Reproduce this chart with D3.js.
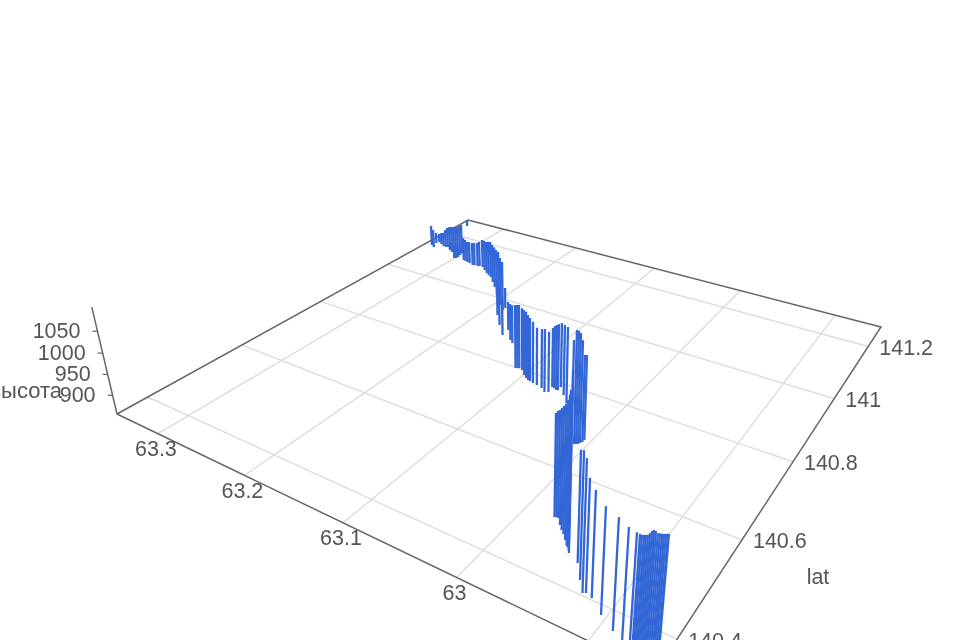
<!DOCTYPE html><html><head><meta charset="utf-8"><style>html,body{margin:0;background:#fff;overflow:hidden}svg{display:block;filter:blur(.55px)}text{font-family:"Liberation Sans",Arial,sans-serif;fill:#555;font-size:21.5px}</style></head><body>
<svg id="c" width="960" height="640"></svg>
<script src="https://cdn.jsdelivr.net/npm/d3@7"></script>
<script>
const lonTicks=[63.3,63.2,63.1,63,62.9];
const latTicks=[141.2,141,140.8,140.6,140.4];
const altTicks=[900,950,1000,1050];
const lonLabels=["63.3","63.2","63.1","63"];
const latLabels=["141.2","141","140.8","140.6","140.4"];
const altBase=854;
const trackLon=[63.3431,63.3378,63.3422,63.3411,63.3356,63.3301,63.3264,63.3244,63.3173,63.3120,63.3002,63.2984,63.2982,63.2995,63.3009,63.3418,63.2881,63.2848,63.2814,63.2780,63.2722,63.2704,63.2661,63.2642,63.2599,63.2537,63.2475,63.2429,63.2382,63.2295,63.2210,63.2087,63.2006,63.1928,63.1850,63.1834,63.1701,63.1565,63.1852,63.1573,63.1448,63.1401,63.1127,63.1113,63.1098,63.1057,63.0996,63.0954,63.0922,63.0899,63.0859,63.0813,63.0752,63.0697,63.0668,63.0682,63.0660,63.0629,63.0615,63.0619,63.0533,63.0449,62.9770,62.9759,62.9742,62.9693,62.9656,62.9624,62.9583,62.9548,62.9533,62.9510,62.9494,63.0097,63.0084,63.0071,63.0064,63.0055,63.0055,62.9395,62.9302,62.9230,62.9211,62.9158,62.9037,62.8912,62.8780,62.8725,62.8726,62.8717,62.8707,62.8698,62.8689,62.8680,62.8671,62.8662,62.8653,62.8643,62.8633,62.8623,62.8614,62.8605,62.8595,62.8591];
const trackLat=[141.1280,141.1218,141.1418,141.1496,141.1435,141.1375,141.1358,141.1383,141.1282,141.1223,141.1003,141.1026,141.1088,141.1192,141.1297,141.2553,141.1032,141.1014,141.0996,141.0979,141.0933,141.0956,141.0950,141.0972,141.0967,141.0872,141.0778,141.0723,141.0669,141.0502,141.0339,141.0073,140.9918,140.9766,140.9617,140.9398,140.9097,140.8816,140.9711,140.9027,140.8741,140.8671,140.7988,140.8006,140.8024,140.7996,140.7879,140.7817,140.7782,140.7773,140.7747,140.7730,140.7695,140.7618,140.7653,140.7816,140.7807,140.7772,140.7789,140.7894,140.7711,140.7534,140.5057,140.5070,140.5066,140.4958,140.4885,140.4830,140.4742,140.4671,140.4644,140.4605,140.4558,140.6639,140.6655,140.6671,140.6710,140.6751,140.6812,140.4460,140.4215,140.4040,140.4063,140.4029,140.3848,140.3705,140.3442,140.3424,140.3507,140.3519,140.3531,140.3542,140.3553,140.3564,140.3574,140.3585,140.3597,140.3609,140.3621,140.3633,140.3644,140.3655,140.3667,140.3672];
const trackAlt=[913,906,885,879,888,894,906,913,924,930,947,947,944,942,939,873,920,917,914,917,920,920,923,926,934,940,945,951,956,961,968,981,988,984,986,937,949,948,910,930,950,954,1013,1013,1013,1010,1017,1019,1016,1011,1006,996,1000,1009,1002,1000,1007,1014,1016,1012,1025,1037,1075,1079,1083,1099,1112,1123,1140,1158,1170,1211,1268,1112,1110,1105,1088,1054,1050,1085,1113,1120,1084,1070,1069,1076,1098,1097,1086,1084,1084,1084,1084,1087,1091,1093,1091,1087,1087,1086,1086,1086,1086,1086];

const lonDomain=[62.855,63.352],latDomain=[140.342,141.285],altTop=1104;
const uScale=d3.scaleLinear().domain(lonDomain).range([0,1]);
const vScale=d3.scaleLinear().domain(latDomain).range([0,1]);
const altScale=d3.scaleLinear().domain([altBase,altBase+1000]).range([0,-0.23]);
// camera: the floor's corners on screen and the vanishing point of the vertical
const D={x:655,y:673},A={x:117,y:414},B={x:468,y:220},C={x:881,y:327},V={x:530,y:2167};
const dx1=A.x-B.x,dx2=C.x-B.x,sx=D.x-A.x+B.x-C.x,dy1=A.y-B.y,dy2=C.y-B.y,sy=D.y-A.y+B.y-C.y;
const den=dx1*dy2-dx2*dy1,g=(sx*dy2-dx2*sy)/den,h=(dx1*sy-sx*dy1)/den;
const a=A.x-D.x+g*A.x,b=C.x-D.x+h*C.x,e0=D.x,d=A.y-D.y+g*A.y,e=C.y-D.y+h*C.y,f=D.y,wA=g+1;
function project(lon,lat,alt){
  const u=uScale(lon),v=vScale(lat),w=g*u+h*v+1;
  const X=a*u+b*v+e0,Y=d*u+e*v+f,k=altScale(alt)*wA;
  return [(X+k*V.x)/(w+k),(Y+k*V.y)/(w+k)];
}
const svg=d3.select("#c"),line=d3.line();
const seg=(p,st,sw)=>svg.append("path").attr("d",line(p)).attr("fill","none").attr("stroke",st).attr("stroke-width",sw);
const [lon0,lon1]=lonDomain,[lat0,lat1]=latDomain;
const grid="#dcdcdc",axis="#666";
lonTicks.forEach(t=>seg([project(t,lat0,altBase),project(t,lat1,altBase)],grid,1.4));
latTicks.forEach(t=>seg([project(lon0,t,altBase),project(lon1,t,altBase)],grid,1.4));
// frame
seg([project(lon1,lat0,altBase),project(lon0,lat0,altBase)],axis,1.5);
seg([project(lon1,lat0,altBase),project(lon1,lat1,altBase),project(lon0,lat1,altBase),project(lon0,lat0,altBase)],axis,1.5);
seg([project(lon1,lat0,altBase),project(lon1,lat0,altTop)],axis,1.5);
// track: one vertical stroke for every sample
svg.append("g").selectAll("path").data(trackLon).join("path")
  .attr("d",(lo,i)=>line([project(lo,trackLat[i],altBase),project(lo,trackLat[i],trackAlt[i])]))
  .attr("fill","none").attr("stroke","#3366d6").attr("stroke-width",2.3);
// labels
lonLabels.forEach((l,i)=>{const p=project(lonTicks[i],lat0,altBase);
  svg.append("text").attr("x",p[0]-2).attr("y",p[1]+15).attr("dy",".35em").attr("text-anchor","middle").text(l)});
latLabels.forEach((l,i)=>{const p=project(lon0,latTicks[i],altBase);
  svg.append("text").attr("x",p[0]+11).attr("y",p[1]+1).attr("dy",".35em").text(l)});
altTicks.forEach(t=>{const p=project(lon1,lat0,t);
  seg([p,[p[0]-5,p[1]]],axis,1.2);
  svg.append("text").attr("x",p[0]-17).attr("y",p[1]-1).attr("dy",".35em").attr("text-anchor","end").text(String(t))});
svg.append("text").attr("x",62).attr("y",390).attr("dy",".35em").attr("text-anchor","end").style("font-size","22px").text("высота");
svg.append("text").attr("x",818).attr("y",576).attr("dy",".35em").attr("text-anchor","middle").text("lat");
</script></body></html>
